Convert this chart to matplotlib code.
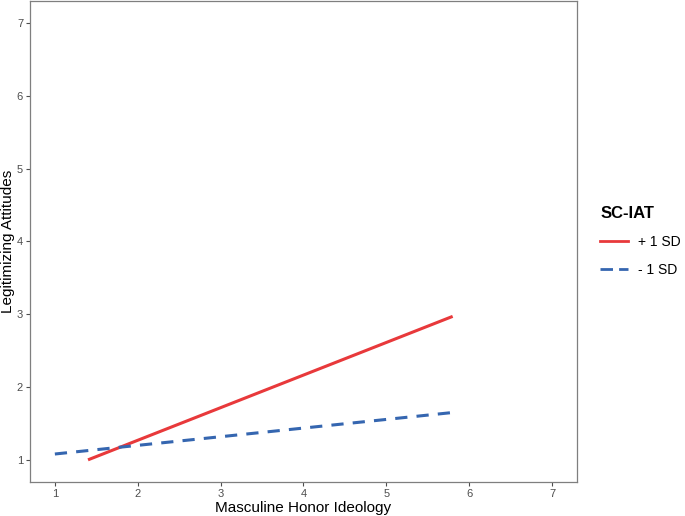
import matplotlib
matplotlib.use("Agg")
import matplotlib.pyplot as plt
from matplotlib.lines import Line2D

plt.rcParams['font.family'] = ['Liberation Sans', 'DejaVu Sans']

# simple slopes at +/- 1 SD of SC-IAT
labels = ["+ 1 SD", "- 1 SD"]
x_high = [1.4, 5.8]
y_high = [1.00, 2.97]
x_low = [1.0, 5.8]
y_low = [1.08, 1.65]
ticks = [1, 2, 3, 4, 5, 6, 7]

red = "#E8393B"
blue = "#3566B0"

fig = plt.figure(figsize=(6.85, 5.16), dpi=100)
ax = fig.add_axes([0.0438, 0.0665, 0.7985, 0.9315])

ax.plot(x_high, y_high, color=red, lw=2.2, solid_capstyle='butt')
ax.plot(x_low, y_low, color=blue, lw=2.2, ls=(0, (4, 3)), dash_capstyle='butt')

ax.set_xlim(0.7, 7.3)
ax.set_ylim(0.7, 7.3)
ax.set_xticks(ticks)
ax.set_yticks(ticks)
ax.tick_params(colors="#4d4d4d", labelsize=8, length=3, width=0.8,
               labelcolor="#4d4d4d", pad=2)
for s in ax.spines.values():
    s.set_color("#7f7f7f")
    s.set_linewidth(0.9)

ax.set_xlabel("Masculine Honor Ideology", fontsize=11, labelpad=2)
ax.set_ylabel("Legitimizing Attitudes", fontsize=11, labelpad=1)

handles = [Line2D([], [], color=red, lw=2),
           Line2D([], [], color=blue, lw=2, ls=(0, (4.5, 2.2)),
                  dash_capstyle='butt')]
leg = fig.legend(handles, labels, title="SC-IAT", loc="upper left",
                 bbox_to_anchor=(0.858, 0.625), frameon=False, fontsize=10,
                 title_fontsize=12, handlelength=2.0, labelspacing=1.0,
                 handletextpad=0.7)
leg.get_title().set_fontweight("bold")
leg._legend_box.align = "left"

fig.savefig("out.png", dpi=100)
